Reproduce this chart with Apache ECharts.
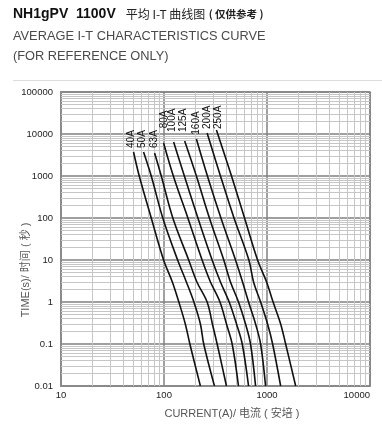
<!DOCTYPE html>
<html><head><meta charset="utf-8">
<script src="https://cdn.jsdelivr.net/npm/echarts@6/dist/echarts.min.js"></script>
<style>html,body{margin:0;padding:0;background:#fff}#c{width:382px;height:428px}</style>
</head><body><div id="c"></div><script>
// ---- data (current A, time s) ----
const ratings = ['40A','50A','63A','80A','100A','125A','160A','200A','250A'];
const curve40A  = [[50.6,3728],[57.5,1000],[75.2,100],[99.1,10],[120.5,3],[139.3,1],[161,0.3],[178.3,0.1],[225.6,0.01]];
const curve50A  = [[63.3,3728],[75.2,1000],[97.3,100],[135.6,10],[164.9,3],[195,1],[225.6,0.3],[243,0.1],[309,0.01]];
const curve63A  = [[81,3532],[94.1,1000],[121.8,100],[173.6,10],[208.6,3],[262.2,1],[295,0.3],[328,0.1],[404,0.01]];
const curve80A  = [[99.1,6105],[123.2,1000],[170.5,100],[234.4,10],[282.5,3],[349.4,1],[404,0.3],[459,0.1],[528.7,0.01]];
const curve100A = [[124,6456],[157.7,1000],[213.3,100],[293.3,10],[353.3,3],[429.5,1],[505.9,0.3],[574.8,0.1],[662,0.01]];
const curve125A = [[158.7,6812],[206.3,1000],[276,100],[380.4,10],[442,3],[529,1],[619,0.3],[692,0.1],[774.5,0.01]];
const curve160A = [[206.3,7604],[264,1000],[357,100],[494.6,10],[578.8,3],[662,1],[774.5,0.3],[866.6,0.1],[968.6,0.01]];
const curve200A = [[262.2,10573],[353.3,1000],[478.2,100],[666.5,10],[740.6,3],[866.6,1],[1013,0.3],[1134,0.1],[1357,0.01]];
const curve250A = [[322.9,12450],[452.2,1000],[605.3,100],[810,10],[991,3],[1146,1],[1357,0.3],[1517,0.1],[1898,0.01]];
const curves = [curve40A,curve50A,curve63A,curve80A,curve100A,curve125A,curve160A,curve200A,curve250A];
const xTicks = [10,100,1000,10000];
const yTicks = [0.01,0.1,1,10,100,1000,10000,100000];

// ---- styling ----
// screen shift [x, y] of each rotated label relative to its curve start
const labelShift = [[-4,-4],[-2.6,-4],[-2,-5],[-0.6,-14.7],[-2.6,-10],[-2.6,-9],[-1.7,-4.3],[-1.7,-4],[0,-1]];
const minorX = [], minorY = [];
for (let d = 0; d < xTicks.length - 1; d++) for (let k = 2; k <= 9; k++) minorX.push(+(k * xTicks[d]).toPrecision(3));
for (let d = 0; d < yTicks.length - 1; d++) for (let k = 2; k <= 9; k++) minorY.push(+(k * yTicks[d]).toPrecision(3));
const fmt = v => { const n = +(+v).toPrecision(3); return String(n); };

const series = curves.map((c, i) => ({
  name: ratings[i], type: 'line', smooth: 0.35, symbol: 'circle', symbolSize: 0, showSymbol: true, z: 5,
  itemStyle: { color: '#111' },
  lineStyle: { color: '#111', width: 1.6 },
  label: { show: false },
  data: c.map((p, j) => j === 0 ? {
    value: p,
    label: { show: true, formatter: ratings[i], rotate: 90, position: 'right', distance: 0,
      offset: [-labelShift[i][1], labelShift[i][0] + 1.5],
      fontFamily: 'Liberation Sans, Arial', fontSize: 10, color: '#111' }
  } : p)
}));
series.unshift({
  type: 'line', data: [], z: 1, silent: true,
  markLine: {
    silent: true, symbol: ['none','none'], label: { show: false }, animation: false,
    lineStyle: { color: '#c6c6c6', width: 1, type: 'solid' },
    data: minorX.map(v => ({ xAxis: v })).concat(minorY.map(v => ({ yAxis: v })))
  }
});

const chart = echarts.init(document.getElementById('c'), null, { renderer: 'canvas' });
chart.setOption({
  animation: false,
  backgroundColor: '#fff',
  grid: { left: 61, right: 12, top: 92, bottom: 42, show: true, borderColor: '#8a8a8a', borderWidth: 1.5 },
  xAxis: {
    type: 'log', logBase: 10, min: xTicks[0], max: xTicks[xTicks.length-1], splitNumber: 3,
    axisLine: { show: true, lineStyle: { color: '#8a8a8a', width: 2 } },
    axisTick: { show: false },
    axisLabel: { color: '#222', fontSize: 9.5, margin: 4, fontFamily: 'Liberation Sans, Arial', formatter: fmt, alignMaxLabel: 'right' },
    splitLine: { show: true, lineStyle: { color: '#808080', width: 1.5 } }
  },
  yAxis: {
    type: 'log', logBase: 10, min: yTicks[0], max: yTicks[yTicks.length-1], splitNumber: 7,
    axisLine: { show: true, lineStyle: { color: '#8a8a8a', width: 2 } },
    axisTick: { show: false },
    axisLabel: { color: '#222', fontSize: 9.5, margin: 8, fontFamily: 'Liberation Sans, Arial', formatter: fmt },
    splitLine: { show: true, lineStyle: { color: '#808080', width: 1.5 } }
  },
  series: series,
  graphic: [
    { type: 'text', left: 13, top: 7, style: {
      text: '{b|NH1gPV  1100V}   {n|平均 I-T 曲线图} {s|( 仅供参考 )}',
      rich: {
        b: { fontFamily: 'Liberation Sans, Arial', fontWeight: 'bold', fontSize: 14, fill: '#111' },
        n: { fontFamily: 'Noto Sans CJK SC', fontSize: 12, fill: '#222' },
        s: { fontFamily: 'Noto Sans CJK SC', fontSize: 10.5, fontWeight: 'bold', fill: '#222' }
      } } },
    { type: 'text', left: 13, top: 30, style: { text: 'AVERAGE I-T CHARACTERISTICS CURVE', fontFamily: 'Liberation Sans, Arial', fontSize: 12.8, fill: '#4a4a4a' } },
    { type: 'text', left: 13, top: 50, style: { text: '(FOR REFERENCE ONLY)', fontFamily: 'Liberation Sans, Arial', fontSize: 12.8, fill: '#4a4a4a' } },
    { type: 'line', shape: { x1: 13, y1: 80.5, x2: 382, y2: 80.5 }, style: { stroke: '#dcdcdc', lineWidth: 1 } },
    { type: 'text', x: 26, y: 270, rotation: Math.PI / 2, style: { text: 'TIME(s)/ 时间 ( 秒 )', fontFamily: 'Liberation Sans, Noto Sans CJK SC', fontSize: 11, fill: '#555', align: 'center', verticalAlign: 'middle' } },
    { type: 'text', x: 232, y: 414, style: { text: 'CURRENT(A)/ 电流 ( 安培 )', fontFamily: 'Liberation Sans, Noto Sans CJK SC', fontSize: 11, fill: '#555', align: 'center', verticalAlign: 'middle' } }
  ]
});
</script></body></html>
